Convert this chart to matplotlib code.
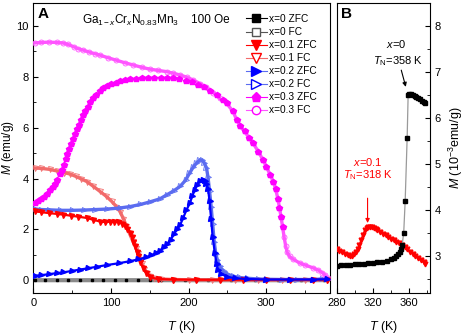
import matplotlib
matplotlib.use("Agg")
import matplotlib.pyplot as plt
from matplotlib.lines import Line2D
from matplotlib.ticker import MultipleLocator

plt.rcParams['font.family'] = ['Liberation Sans', 'DejaVu Sans']
plt.rcParams['mathtext.fontset'] = 'custom'
plt.rcParams['mathtext.rm'] = 'Liberation Sans'
plt.rcParams['mathtext.it'] = 'Liberation Sans:italic'
plt.rcParams['mathtext.bf'] = 'Liberation Sans:bold'

# --- datos panel A (M en emu/g) ---
T_x0_a = [2, 15, 30, 45, 60, 75, 90, 105, 120, 135, 150, 165, 180, 195, 210, 225,
          240, 255, 270, 285, 300, 315, 330, 345, 360, 375]
M_x0_a = [0.003, 0.003, 0.003, 0.003, 0.003, 0.003, 0.003, 0.003, 0.003, 0.003,
          0.003, 0.003, 0.003, 0.003, 0.003, 0.003, 0.003, 0.003, 0.003, 0.003,
          0.003, 0.003, 0.003, 0.003, 0.006, 0.006]

T_x1_zfc = [2, 10, 20, 30, 38.6, 48, 58, 68.7, 77, 85.8, 92, 98.7, 104, 109.4, 114,
            118, 121, 124.6, 127, 129, 131, 133, 135, 138, 141.6, 145, 150, 160,
            180, 210, 240, 270, 300, 330, 360, 378]
M_x1_zfc = [2.71, 2.68, 2.64, 2.61, 2.58, 2.54, 2.50, 2.45, 2.38, 2.31, 2.29, 2.30,
            2.31, 2.29, 2.22, 2.14, 2.02, 1.86, 1.70, 1.50, 1.33, 1.12, 0.94, 0.70,
            0.49, 0.30, 0.12, 0.05, 0.03, 0.02, 0.02, 0.02, 0.02, 0.02, 0.02, 0.02]

T_x1_fc = [2, 10, 21, 30, 40, 47, 55, 62, 69, 77, 86, 94, 101, 107, 112, 116, 120,
           124, 128, 132, 135, 138, 140, 143, 146, 150, 156, 165, 180, 200, 230,
           260, 290, 320, 350, 378]
M_x1_fc = [4.41, 4.40, 4.36, 4.30, 4.23, 4.18, 4.08, 3.98, 3.88, 3.70, 3.49, 3.30,
           3.10, 2.90, 2.68, 2.42, 2.12, 1.83, 1.55, 1.27, 1.07, 0.83, 0.66, 0.45,
           0.29, 0.17, 0.09, 0.05, 0.03, 0.02, 0.01, 0.01, 0.01, 0.01, 0.01, 0.01]

T_x2_zfc = [2, 10, 20, 30, 38.6, 50, 60, 70, 81.6, 95, 110, 124.5, 135, 145, 152,
            158, 163, 168, 172, 177, 181, 185, 189, 193, 197, 201.6, 205, 208, 211,
            215, 218.8, 221, 223, 225, 227, 229, 231, 233.8, 236, 238, 242, 250,
            260, 275, 300, 330, 360, 378]
M_x2_zfc = [0.18, 0.20, 0.24, 0.28, 0.31, 0.37, 0.42, 0.47, 0.53, 0.60, 0.67, 0.75,
            0.82, 0.90, 0.98, 1.07, 1.17, 1.30, 1.42, 1.60, 1.80, 2.00, 2.17, 2.45,
            2.75, 3.03, 3.33, 3.55, 3.75, 3.90, 3.95, 3.90, 3.80, 3.60, 3.10, 2.40,
            1.70, 1.07, 0.65, 0.42, 0.25, 0.13, 0.08, 0.05, 0.03, 0.03, 0.03, 0.04]

T_x2_fc = [2, 10, 20, 35, 50, 65, 80, 95, 111, 125, 138, 150, 163, 172, 181, 189,
           196, 201, 206, 210, 214, 217, 220, 223, 225, 227, 229, 231, 233, 235,
           237, 240, 245, 250, 257, 265, 275, 290, 300, 320, 340, 360, 372, 378]
M_x2_fc = [2.80, 2.78, 2.77, 2.75, 2.75, 2.76, 2.78, 2.80, 2.84, 2.90, 2.98, 3.08,
           3.20, 3.36, 3.52, 3.69, 3.93, 4.20, 4.45, 4.60, 4.72, 4.73, 4.62, 4.42,
           4.05, 3.50, 2.90, 2.20, 1.50, 1.05, 0.80, 0.55, 0.35, 0.24, 0.16, 0.11,
           0.08, 0.05, 0.04, 0.03, 0.03, 0.03, 0.05, 0.07]

T_x3_zfc = [2, 6, 10, 14, 18, 22, 25, 28, 31, 34, 36.5, 39, 41.5, 44, 46.5, 49,
            51.5, 54, 56.5, 59, 61.5, 64, 67, 70, 73.5, 77, 81, 85.5, 90, 95, 100,
            106, 112, 118, 125, 132, 140, 148, 156, 164, 172, 180, 188, 196, 204,
            212, 220, 228, 236, 244, 250, 257, 262, 266, 272, 278, 283, 290, 296,
            300, 305, 309, 312, 315, 317, 319, 321]
M_x3_zfc = [3.03, 3.10, 3.18, 3.28, 3.40, 3.53, 3.66, 3.80, 3.96, 4.16, 4.35, 4.55,
            4.75, 4.96, 5.16, 5.36, 5.55, 5.75, 5.94, 6.12, 6.30, 6.48, 6.65, 6.82,
            7.00, 7.16, 7.30, 7.44, 7.55, 7.64, 7.70, 7.77, 7.82, 7.86, 7.90, 7.93,
            7.95, 7.96, 7.97, 7.97, 7.96, 7.94, 7.90, 7.85, 7.78, 7.69, 7.58, 7.45,
            7.30, 7.10, 6.95, 6.65, 6.30, 6.08, 5.85, 5.60, 5.39, 5.05, 4.72, 4.47,
            4.15, 3.88, 3.60, 3.20, 2.85, 2.50, 2.10]

T_x3_fc = [2, 10, 20, 30, 38, 45, 52, 58, 64, 72, 80, 86, 96, 107, 118, 129, 140,
           150, 161, 172, 180, 189, 198, 206, 215, 223, 232, 240, 249, 257, 262,
           266, 272, 278, 283, 290, 296, 300, 305, 309, 312, 315, 317, 319, 321,
           323, 325, 327, 330, 335, 343, 350, 360, 367, 372, 376, 379]
M_x3_fc = [9.33, 9.35, 9.36, 9.35, 9.33, 9.27, 9.18, 9.10, 9.05, 8.97, 8.90, 8.85,
           8.75, 8.65, 8.55, 8.46, 8.37, 8.30, 8.25, 8.20, 8.14, 8.07, 7.98, 7.87,
           7.73, 7.58, 7.38, 7.15, 6.95, 6.65, 6.30, 6.08, 5.85, 5.60, 5.39, 5.05,
           4.72, 4.47, 4.15, 3.88, 3.60, 3.20, 2.85, 2.50, 2.10, 1.70, 1.35, 1.10,
           0.94, 0.82, 0.68, 0.60, 0.49, 0.40, 0.30, 0.20, 0.08]

# --- datos panel B (M en 10^-3 emu/g) ---
T_b_x0 = [280, 285, 290, 295, 300, 305, 310, 315, 320, 325, 330, 335, 340, 343, 346,
          348, 350, 351.5, 352.3, 354, 355.6, 357.8, 358.9, 360, 362, 364, 366, 368,
          370, 372, 374, 376, 378]
M_b_x0 = [2.79, 2.80, 2.80, 2.81, 2.82, 2.83, 2.84, 2.85, 2.86, 2.87, 2.88, 2.90,
          2.93, 2.96, 3.00, 3.04, 3.10, 3.16, 3.24, 3.51, 4.19, 5.57, 6.51, 6.53,
          6.52, 6.50, 6.48, 6.46, 6.44, 6.41, 6.38, 6.35, 6.32]

T_b_x1 = [280, 283, 286, 289, 292, 295, 297, 299, 301, 303, 305, 307, 309, 311, 313,
          315, 317, 319, 321, 323, 325, 328, 331, 334, 337, 340, 343, 346, 349, 352,
          355, 358, 361, 364, 367, 370, 373, 376, 378]
M_b_x1 = [3.16, 3.12, 3.08, 3.05, 3.02, 3.00, 3.01, 3.04, 3.09, 3.15, 3.24, 3.35,
          3.47, 3.56, 3.61, 3.63, 3.63, 3.63, 3.62, 3.60, 3.57, 3.53, 3.49, 3.45,
          3.42, 3.38, 3.35, 3.31, 3.28, 3.24, 3.20, 3.15, 3.10, 3.05, 3.00, 2.95,
          2.91, 2.87, 2.84]

# --- colores ---
rojo = '#ff0000'
rojo_fc = '#f26b6b'
azul = '#0000ff'
azul_fc = '#5b6cf0'
magenta = '#ff00ff'
magenta_fc = '#ff55ff'
gris = '#8a8a8a'

fig = plt.figure(figsize=(4.66, 3.35), dpi=100)
axA = fig.add_axes([0.0715, 0.1254, 0.6365, 0.8656])
axB = fig.add_axes([0.7225, 0.1254, 0.2002, 0.8656])

ms = 3.6
# x=0
axA.plot(T_x0_a, M_x0_a, color=gris, lw=3, marker='s', ms=2, mfc='k', mec='k', zorder=2)
# x=0.1
axA.plot(T_x1_fc, M_x1_fc, color=rojo_fc, lw=2.4, marker='v', ms=ms, mfc='none',
         mec=rojo_fc, mew=0.6, zorder=3)
axA.plot(T_x1_zfc, M_x1_zfc, color=rojo, lw=1.6, marker='v', ms=ms, mfc=rojo,
         mec=rojo, zorder=4)
# x=0.2
axA.plot(T_x2_fc, M_x2_fc, color=azul_fc, lw=2.4, marker='>', ms=ms, mfc='none',
         mec=azul_fc, mew=0.6, zorder=3)
axA.plot(T_x2_zfc, M_x2_zfc, color=azul, lw=1.6, marker='>', ms=ms, mfc=azul,
         mec=azul, zorder=4)
# x=0.3
axA.plot(T_x3_zfc, M_x3_zfc, color=magenta, lw=0, marker='p', ms=ms + 0.4, mfc=magenta,
         mec=magenta, zorder=4)
axA.plot(T_x3_fc, M_x3_fc, color=magenta_fc, lw=2.4, marker='o', ms=ms, mfc='none',
         mec=magenta_fc, mew=0.6, zorder=3)

axA.set_xlim(0, 382)
axA.set_ylim(-0.5, 10.9)
axA.xaxis.set_major_locator(MultipleLocator(100))
axA.xaxis.set_minor_locator(MultipleLocator(50))
axA.yaxis.set_major_locator(MultipleLocator(2))
axA.yaxis.set_minor_locator(MultipleLocator(1))
axA.tick_params(which='both', direction='in', labelsize=8, top=False, right=False)
axA.tick_params(which='major', length=3.5)
axA.tick_params(which='minor', length=2)
axA.set_xlabel('$T$ (K)', fontsize=9, labelpad=8)
axA.set_ylabel('$M$ (emu/g)', fontsize=8.5)
axA.yaxis.set_label_coords(-0.06, 0.5)
axA.text(0.015, 0.985, 'A', transform=axA.transAxes, fontsize=11, fontweight='bold',
         va='top', ha='left')
axA.text(0.163, 0.94, r'Ga$_{\mathregular{1-}x}$Cr$_x$N$_{\mathregular{0.83}}$Mn$_{\mathregular{3}}$',
         transform=axA.transAxes, fontsize=8.5, va='center', ha='left')
axA.text(0.663, 0.94, '100 Oe', transform=axA.transAxes, fontsize=8.5, va='center', ha='right')

handles = [
    Line2D([], [], color='k', lw=0.8, marker='s', ms=5.5, mfc='k', mec='k'),
    Line2D([], [], color='#555555', lw=0.8, marker='s', ms=5.5, mfc='white', mec='#555555'),
    Line2D([], [], color=rojo, lw=0.8, marker='v', ms=6.5, mfc=rojo, mec=rojo),
    Line2D([], [], color=rojo_fc, lw=0.8, marker='v', ms=6.5, mfc='white', mec=rojo),
    Line2D([], [], color=azul_fc, lw=0.8, marker='>', ms=6.5, mfc=azul, mec=azul),
    Line2D([], [], color=azul_fc, lw=0.8, marker='>', ms=6.5, mfc='white', mec=azul),
    Line2D([], [], color=magenta, lw=0.8, marker='p', ms=6.5, mfc=magenta, mec=magenta),
    Line2D([], [], color=magenta_fc, lw=0.8, marker='o', ms=6, mfc='white', mec=magenta),
]
etiquetas = ['x=0 ZFC', 'x=0 FC', 'x=0.1 ZFC', 'x=0.1 FC', 'x=0.2 ZFC', 'x=0.2 FC',
             'x=0.3 ZFC', 'x=0.3 FC']
axA.legend(handles, etiquetas, loc='upper left', bbox_to_anchor=(0.718, 0.962),
           frameon=False, fontsize=7.3, handlelength=2.0, handletextpad=0.2,
           labelspacing=0.3, borderpad=0, borderaxespad=0)

# --- panel B ---
axB.plot(T_b_x1, M_b_x1, color=rojo, lw=1.2, marker='v', ms=3.4, mfc=rojo, mec=rojo, zorder=3)
axB.plot(T_b_x0, M_b_x0, color='#9a9a9a', lw=0.9, marker='s', ms=2.8, mfc='k', mec='k', zorder=4)
axB.set_xlim(280, 383)
axB.set_ylim(2.2, 8.5)
axB.xaxis.set_major_locator(MultipleLocator(40))
axB.xaxis.set_minor_locator(MultipleLocator(20))
axB.yaxis.set_major_locator(MultipleLocator(1))
axB.yaxis.set_minor_locator(MultipleLocator(0.5))
axB.yaxis.tick_right()
axB.yaxis.set_label_position('right')
axB.tick_params(which='both', direction='in', labelsize=8, left=False, top=False,
                right=True)
axB.tick_params(which='major', length=3.5)
axB.tick_params(which='minor', length=2)
axB.set_xlabel('$T$ (K)', fontsize=9, labelpad=8)
axB.set_ylabel(r'$M$ (10$^{\mathregular{-3}}$emu/g)', fontsize=9, labelpad=4)
axB.text(0.05, 0.985, 'B', transform=axB.transAxes, fontsize=11, fontweight='bold',
         va='top', ha='left')
axB.text(346, 7.6, '$x$=0', fontsize=8, ha='center', va='center')
axB.text(347.8, 7.24, '$T_{\\mathregular{N}}$=358 K', fontsize=8, ha='center', va='center')
axB.annotate('', xy=(357.1, 6.62), xytext=(350.5, 7.1),
             arrowprops=dict(arrowstyle='-|>', color='k', lw=0.8, mutation_scale=6))
axB.text(314.8, 5.04, '$x$=0.1', fontsize=8, ha='center', va='center', color=rojo)
axB.text(314.8, 4.76, '$T_{\\mathregular{N}}$=318 K', fontsize=8, ha='center', va='center',
         color=rojo)
axB.annotate('', xy=(314.1, 3.66), xytext=(314.1, 4.32),
             arrowprops=dict(arrowstyle='-|>', color=rojo, lw=0.8, mutation_scale=6))

fig.savefig('out.png', dpi=100)
